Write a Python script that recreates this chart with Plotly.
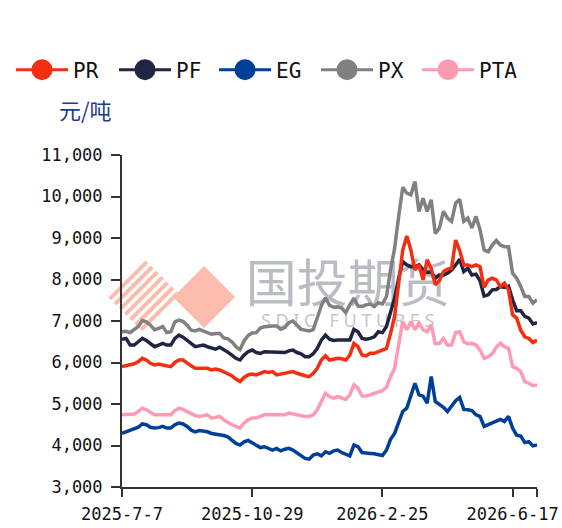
import plotly.graph_objects as go

# ---------------- data ----------------
tick_labels = ["2025-7-7", "2025-10-29", "2026-2-25", "2026-6-17"]
tick_index = [0, 32, 64, 96]

series_names = ["PR", "PF", "EG", "PX", "PTA"]
series_colors = ["#f52e12", "#1f2542", "#003f98", "#808080", "#fe9bb2"]

pr = [5900, 5920, 5940, 5970, 6020, 6100, 6060, 5980, 5940, 5960, 5940, 5920, 5900, 6000, 6060, 6060,
      5980, 5920, 5860, 5860, 5860, 5860, 5820, 5840, 5820, 5780, 5740, 5680, 5600, 5540, 5640, 5700,
      5720, 5700, 5740, 5780, 5760, 5780, 5700, 5720, 5740, 5760, 5780, 5740, 5700, 5680, 5660, 5740,
      5860, 6060, 6160, 6060, 6080, 6100,
      6090, 6060, 6180, 6460, 6380, 6180, 6160, 6220, 6220, 6260, 6290, 6340, 6700, 7110, 7910, 8710,
      9050, 8710, 8230, 8350, 7990, 8470, 8270, 7870, 7970, 8190, 8250, 8270, 8950, 8700, 8350, 8350,
      8310, 8350, 8310, 7810, 7990, 8030, 7990, 7830, 7910, 7750, 7150, 7070, 6780, 6620, 6580, 6480, 6540]

pf = [6560, 6580, 6420, 6420, 6500, 6580, 6530, 6450, 6380, 6420, 6460, 6420, 6420, 6580, 6660, 6610,
      6530, 6450, 6380, 6400, 6420, 6380, 6340, 6320, 6370, 6320, 6250, 6180, 6100, 6060, 6180, 6260,
      6300, 6240, 6220, 6260, 6260, 6260, 6260, 6260, 6240, 6280, 6300, 6240, 6210, 6140, 6140, 6210,
      6340, 6540, 6660, 6560, 6530, 6540,
      6540, 6530, 6540, 6800, 6740, 6580, 6560, 6580, 6620, 6740, 6720, 6870, 7190, 7550, 8030, 8430,
      8350, 8310, 8310, 8350, 8230, 8170, 8190, 8030, 8110, 8110, 8150, 8230, 8350, 8490, 8190, 8270,
      8110, 8130, 7970, 7600, 7630, 7750, 7760, 7830, 7810, 7840, 7510, 7250, 7250, 7110, 7070, 6930, 6960]

eg = [4290, 4330, 4370, 4390, 4440, 4520, 4500, 4440, 4420, 4430, 4460, 4420, 4420, 4500, 4540, 4520,
      4460, 4370, 4330, 4360, 4350, 4330, 4290, 4280, 4250, 4240, 4210, 4120, 4050, 4010, 4090, 4120,
      4070, 4010, 3950, 3970, 3930, 3890, 3930, 3870, 3910, 3930, 3890, 3830, 3750, 3690, 3670, 3770,
      3800, 3750, 3850, 3810, 3870, 3890,
      3830, 3800, 3750, 4010, 3970, 3830, 3810, 3810, 3800, 3770, 3760, 3890, 4150, 4290, 4550, 4820,
      4900, 5180, 5500, 5220, 5190, 5020, 5660, 5060, 5000, 4920, 4820, 4940, 5080, 5160, 4870, 4860,
      4840, 4740, 4700, 4460, 4500, 4550, 4580, 4630, 4580, 4700, 4420, 4250, 4230, 4070, 4090, 3990, 4010]

px_ = [6740, 6750, 6720, 6800, 6870, 7010, 6980, 6900, 6790, 6820, 6870, 6720, 6740, 6980, 7020, 6990,
       6900, 6780, 6760, 6800, 6760, 6740, 6680, 6700, 6700, 6590, 6570, 6500, 6380, 6310, 6520, 6650,
       6710, 6720, 6830, 6860, 6880, 6880, 6880, 6800, 6840, 6960, 7000, 6900, 6800, 6780, 6760, 6790,
       7100, 7370, 7560, 7380, 7330, 7340,
       7310, 7200, 7390, 7550, 7360, 7350, 7390, 7410, 7350, 7440, 7410, 7590, 8230, 8750, 9520, 10220,
       10080, 10040, 10360, 9640, 9960, 9640, 9920, 9110, 9230, 9640, 9480, 9400, 9840, 9930, 9400, 9480,
       9240, 9520, 9200, 8710, 8670, 8830, 8940, 8830, 8790, 8790, 8150, 8030, 7830, 7590, 7590, 7430, 7510]

pta = [4740, 4740, 4740, 4760, 4820, 4900, 4860, 4790, 4740, 4740, 4740, 4720, 4740, 4840, 4900, 4870,
       4820, 4760, 4720, 4700, 4710, 4740, 4660, 4670, 4700, 4620, 4550, 4500, 4460, 4420, 4540, 4620,
       4660, 4660, 4700, 4740, 4740, 4740, 4740, 4740, 4740, 4780, 4760, 4740, 4700, 4700, 4700, 4740,
       4860, 5080, 5260, 5180, 5140, 5180,
       5140, 5110, 5220, 5460, 5380, 5190, 5190, 5220, 5240, 5270, 5320, 5400, 5660, 5860, 6460, 6990,
       6790, 6990, 6790, 6950, 6790, 6740, 6910, 6460, 6460, 6580, 6420, 6420, 6720, 6740, 6500, 6450,
       6460, 6420, 6300, 6100, 6140, 6210, 6370, 6460, 6380, 6340, 5900, 5860, 5780, 5540, 5500, 5440, 5460]

series_values = [pr, pf, eg, px_, pta]
y_ticks = [3000, 4000, 5000, 6000, 7000, 8000, 9000, 10000, 11000]
unit_label = "元/吨"

# ---------------- layout geometry ----------------
W, H = 562, 528
ML, MR, MT, MB = 122, 25.3, 155, 41
PW, PH = W - ML - MR, H - MT - MB
n = len(pr)
x = list(range(n))

def fx(p):
    return (p - ML) / PW

def fy(p):
    return (H - MB - p) / PH

MONO = "DejaVu Sans Mono"
legend_left = [11, 114, 214, 316, 417]   # pixel left edge of each legend entry
legend_ids = ["legend", "legend2", "legend3", "legend4", "legend5"]

fig = go.Figure()

draw_order = [3, 4, 2, 1, 0]
for k in draw_order:
    fig.add_trace(go.Scatter(
        x=x, y=series_values[k], mode="lines", name=series_names[k],
        line=dict(color=series_colors[k], width=3.5), showlegend=False,
        legendgroup=series_names[k], hoverinfo="skip"))

for k in range(5):
    fig.add_trace(go.Scatter(
        x=[None], y=[None], mode="lines+markers", name=series_names[k],
        legendgroup=series_names[k], legend=legend_ids[k],
        line=dict(color=series_colors[k], width=3),
        marker=dict(color=series_colors[k], size=16,
                    line=dict(color=series_colors[k], width=5))))

legend_style = dict(orientation="h", xref="container", yref="container",
                    y=1 - 70 / H, xanchor="left", yanchor="middle",
                    font=dict(family=MONO, size=21, color="#111111"),
                    itemwidth=52, bgcolor="rgba(0,0,0,0)")
legends = {}
for k in range(5):
    legends[legend_ids[k]] = dict(legend_style, x=legend_left[k] / W)

# ---------------- watermark ----------------
wm_salmon = "#fbbcae"
shapes = []
cx, cy, h = 204, 297, 31
path = "M{},{} L{},{} L{},{} L{},{} Z".format(
    fx(cx - h), fy(cy), fx(cx), fy(cy - h), fx(cx + h), fy(cy), fx(cx), fy(cy + h))
shapes.append(dict(type="path", xref="paper", yref="paper", path=path,
                   fillcolor=wm_salmon, line=dict(width=0), layer="below"))
cx2, cy2, h2 = 145, 297, 37
Lp, Tp, Rp, Bp = (cx2 - h2, cy2), (cx2, cy2 - h2), (cx2 + h2, cy2), (cx2, cy2 + h2)
for t in [0.05, 0.19, 0.33, 0.47, 0.61, 0.75, 0.89]:
    P = (Lp[0] + t * (Bp[0] - Lp[0]), Lp[1] + t * (Bp[1] - Lp[1]))
    Q = (Tp[0] + t * (Rp[0] - Tp[0]), Tp[1] + t * (Rp[1] - Tp[1]))
    shapes.append(dict(type="line", xref="paper", yref="paper",
                       x0=fx(P[0]), y0=fy(P[1]), x1=fx(Q[0]), y1=fy(Q[1]),
                       line=dict(color=wm_salmon, width=4), layer="below"))
shapes.append(dict(type="rect", xref="paper", yref="paper",
                   x0=fx(245), x1=fx(450), y0=fy(312), y1=fy(264),
                   line=dict(width=0), fillcolor="rgba(0,0,0,0)", layer="below",
                   label=dict(text="国投期货", textposition="middle center",
                              font=dict(family="Noto Sans CJK SC", size=51, color="#babcc4"))))
shapes.append(dict(type="rect", xref="paper", yref="paper",
                   x0=fx(245), x1=fx(450), y0=fy(330), y1=fy(312),
                   line=dict(width=0), fillcolor="rgba(0,0,0,0)", layer="below",
                   label=dict(text="S D I C   F U T U R E S", textposition="middle center",
                              font=dict(family="Noto Sans", size=18, color="#c4c6cc"))))

fig.update_layout(
    width=W, height=H,
    margin=dict(l=ML, r=MR, t=MT, b=MB, autoexpand=False),
    paper_bgcolor="white", plot_bgcolor="white",
    shapes=shapes,
    showlegend=True,
    annotations=[dict(text=unit_label, xref="paper", yref="paper",
                      x=fx(86), y=fy(109), xanchor="center", yanchor="middle",
                      showarrow=False,
                      font=dict(family="Noto Sans CJK SC", size=22, color="#1f3c8c"))],
    xaxis=dict(range=[0, n - 1], tickmode="array",
               tickvals=tick_index + [n - 1], ticktext=tick_labels + [""],
               showgrid=False, zeroline=False, automargin=False,
               showline=True, linecolor="#333333", linewidth=2,
               ticks="outside", ticklen=8, tickwidth=2, tickcolor="#333333",
               ticklabelstandoff=3,
               tickfont=dict(family=MONO, size=17, color="#111111")),
    yaxis=dict(range=[3000, 11000], tickmode="array", tickvals=y_ticks,
               tickformat=",", showgrid=False, zeroline=False, automargin=False,
               showline=True, linecolor="#333333", linewidth=2,
               ticks="outside", ticklen=9, tickwidth=2, tickcolor="#333333",
               ticklabelstandoff=5,
               tickfont=dict(family=MONO, size=17, color="#111111")),
    **legends,
)

fig.write_html("out.html", config={"displayModeBar": False},
               post_script="document.body.style.margin='0px';")
